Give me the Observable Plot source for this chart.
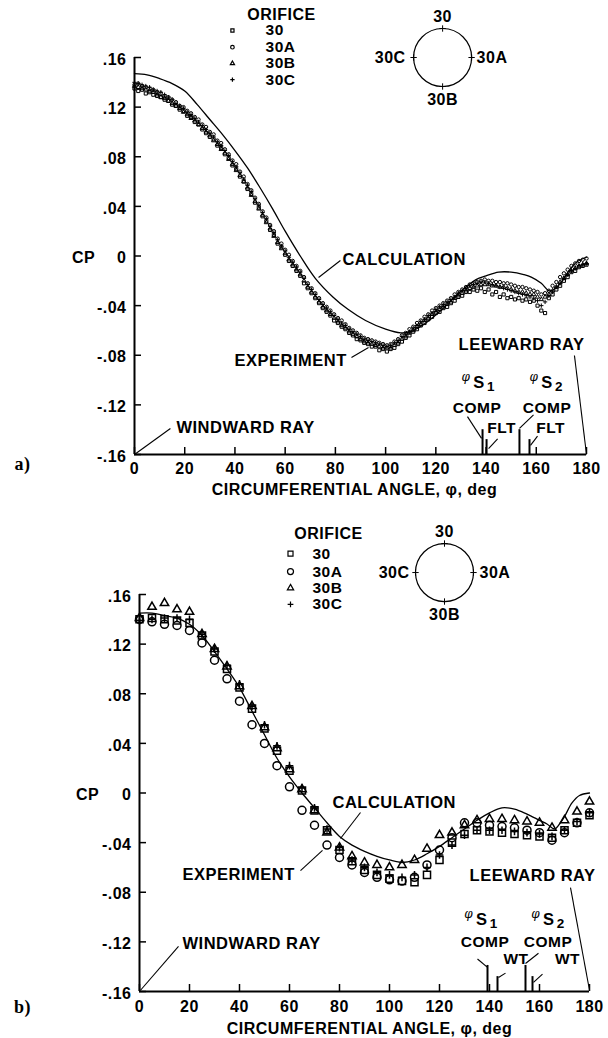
<!DOCTYPE html>
<html><head><meta charset="utf-8">
<script src="https://cdn.jsdelivr.net/npm/d3@7"></script>
<script src="https://cdn.jsdelivr.net/npm/@observablehq/plot@0.6"></script>
<style>
html,body{margin:0;padding:0;background:#fff;}
#wrap{width:608px;height:1038px;overflow:hidden;background:#fff;}
#wrap svg{display:block;background:#fff;}
#wrap svg text{letter-spacing:0.5px;}
</style></head><body><div id="wrap"></div>
<script>
// ---------- shared ----------
const orifices = ["30", "30A", "30B", "30C"];
const symbols = ["square2", "circle", "triangle2", "plus"];
const yTicks = [0.16, 0.12, 0.08, 0.04, 0, -0.04, -0.08, -0.12, -0.16];
const yTickLabels = [".16", ".12", ".08", ".04", "0", "-.04", "-.08", "-.12", "-.16"];
const xTicks = [0, 20, 40, 60, 80, 100, 120, 140, 160, 180];

// ---------- panel a (flight) ----------
const calcAngleA = [0, 5, 10, 15, 20, 25, 30, 35, 40, 45, 50, 55, 60, 66, 72, 79, 85, 92, 100, 106, 110, 116, 122, 128, 132, 136, 140, 145, 150, 155, 158, 162, 165, 167, 170, 173, 176, 180];
const calcCpA = [0.147, 0.146, 0.143, 0.139, 0.133, 0.122, 0.110, 0.098, 0.085, 0.071, 0.055, 0.038, 0.020, 0.000, -0.018, -0.033, -0.043, -0.052, -0.059, -0.062, -0.061, -0.054, -0.044, -0.032, -0.025, -0.019, -0.016, -0.013, -0.013, -0.015, -0.017, -0.022, -0.028, -0.027, -0.021, -0.012, -0.005, -0.001];
// run 1
const expAngleA = [0, 3, 6, 9, 12, 15, 18, 21, 24, 27, 30, 33, 36, 39, 42, 45, 48, 51, 54, 57, 60, 63, 66, 69, 72, 75, 78, 81, 84, 87, 90, 93, 96, 99, 102, 105, 108, 111, 114, 117, 120, 123, 126, 129, 132, 135, 138, 141, 144, 147, 150, 153, 156, 159, 162, 165, 168, 171, 174, 177, 180];
const cpA_30 = [0.135, 0.134, 0.132, 0.129, 0.126, 0.122, 0.118, 0.113, 0.108, 0.102, 0.096, 0.089, 0.082, 0.073, 0.064, 0.054, 0.043, 0.032, 0.021, 0.010, 0.001, -0.008, -0.016, -0.026, -0.034, -0.042, -0.048, -0.054, -0.059, -0.064, -0.068, -0.071, -0.073, -0.075, -0.075, -0.071, -0.066, -0.061, -0.056, -0.051, -0.046, -0.042, -0.038, -0.033, -0.029, -0.027, -0.026, -0.027, -0.029, -0.031, -0.033, -0.034, -0.035, -0.036, -0.044, -0.034, -0.027, -0.020, -0.013, -0.009, -0.007];
const cpA_30A = [0.138, 0.137, 0.135, 0.132, 0.129, 0.126, 0.121, 0.117, 0.112, 0.106, 0.100, 0.093, 0.086, 0.077, 0.068, 0.058, 0.047, 0.036, 0.025, 0.014, 0.005, -0.004, -0.012, -0.022, -0.030, -0.038, -0.044, -0.050, -0.055, -0.060, -0.064, -0.067, -0.069, -0.071, -0.071, -0.067, -0.062, -0.057, -0.052, -0.047, -0.042, -0.038, -0.034, -0.029, -0.025, -0.022, -0.020, -0.020, -0.021, -0.022, -0.023, -0.025, -0.026, -0.028, -0.031, -0.028, -0.021, -0.014, -0.008, -0.004, -0.002];
const cpA_30B = [0.137, 0.135, 0.133, 0.130, 0.127, 0.123, 0.119, 0.114, 0.109, 0.103, 0.097, 0.090, 0.083, 0.074, 0.065, 0.055, 0.044, 0.033, 0.022, 0.011, 0.002, -0.007, -0.015, -0.025, -0.033, -0.041, -0.047, -0.053, -0.058, -0.063, -0.067, -0.070, -0.072, -0.074, -0.074, -0.070, -0.065, -0.060, -0.055, -0.050, -0.045, -0.041, -0.037, -0.032, -0.028, -0.025, -0.023, -0.023, -0.024, -0.025, -0.027, -0.029, -0.030, -0.031, -0.035, -0.031, -0.025, -0.018, -0.012, -0.008, -0.006];
const cpA_30C = [0.140, 0.138, 0.136, 0.133, 0.130, 0.126, 0.121, 0.116, 0.111, 0.105, 0.099, 0.092, 0.085, 0.076, 0.067, 0.057, 0.046, 0.035, 0.024, 0.013, 0.004, -0.005, -0.013, -0.023, -0.031, -0.039, -0.045, -0.051, -0.056, -0.061, -0.065, -0.068, -0.070, -0.072, -0.072, -0.068, -0.063, -0.058, -0.053, -0.048, -0.043, -0.039, -0.035, -0.030, -0.026, -0.023, -0.021, -0.022, -0.024, -0.026, -0.028, -0.030, -0.032, -0.034, -0.040, -0.032, -0.025, -0.018, -0.012, -0.008, -0.006];
// run 2
const expAngleA2 = [1.5, 4.5, 7.5, 10.5, 13.5, 16.5, 19.5, 22.5, 25.5, 28.5, 31.5, 34.5, 37.5, 40.5, 43.5, 46.5, 49.5, 52.5, 55.5, 58.5, 61.5, 64.5, 67.5, 70.5, 73.5, 76.5, 79.5, 82.5, 85.5, 88.5, 91.5, 94.5, 97.5, 100.5, 103.5, 106.5, 109.5, 112.5, 115.5, 118.5, 121.5, 124.5, 127.5, 130.5, 133.5, 136.5, 139.5, 142.5, 145.5, 148.5, 151.5, 154.5, 157.5, 160.5, 163.5, 166.5, 169.5, 172.5, 175.5, 178.5];
const cpA2_30 = [0.133, 0.131, 0.130, 0.128, 0.125, 0.121, 0.117, 0.112, 0.106, 0.099, 0.094, 0.087, 0.079, 0.070, 0.060, 0.050, 0.039, 0.028, 0.017, 0.007, -0.004, -0.012, -0.022, -0.030, -0.038, -0.045, -0.052, -0.057, -0.062, -0.067, -0.070, -0.073, -0.076, -0.077, -0.074, -0.069, -0.064, -0.059, -0.054, -0.049, -0.045, -0.041, -0.036, -0.032, -0.029, -0.028, -0.029, -0.031, -0.033, -0.034, -0.035, -0.036, -0.037, -0.040, -0.046, -0.031, -0.024, -0.017, -0.012, -0.008];
const cpA2_30A = [0.139, 0.136, 0.134, 0.131, 0.128, 0.124, 0.120, 0.115, 0.110, 0.104, 0.098, 0.091, 0.082, 0.074, 0.064, 0.053, 0.042, 0.031, 0.020, 0.010, 0.001, -0.008, -0.017, -0.026, -0.034, -0.041, -0.047, -0.052, -0.058, -0.062, -0.066, -0.068, -0.070, -0.072, -0.069, -0.064, -0.059, -0.054, -0.049, -0.044, -0.040, -0.036, -0.031, -0.027, -0.023, -0.021, -0.019, -0.020, -0.021, -0.022, -0.024, -0.025, -0.027, -0.029, -0.030, -0.024, -0.017, -0.011, -0.006, -0.003];
const cpA2_30B = [0.136, 0.134, 0.132, 0.128, 0.125, 0.121, 0.116, 0.111, 0.106, 0.100, 0.093, 0.086, 0.078, 0.069, 0.060, 0.049, 0.038, 0.027, 0.016, 0.006, -0.003, -0.011, -0.020, -0.029, -0.037, -0.044, -0.050, -0.056, -0.061, -0.065, -0.069, -0.071, -0.073, -0.074, -0.072, -0.067, -0.062, -0.057, -0.052, -0.047, -0.043, -0.039, -0.034, -0.030, -0.026, -0.024, -0.023, -0.024, -0.025, -0.026, -0.028, -0.029, -0.031, -0.033, -0.033, -0.028, -0.021, -0.015, -0.010, -0.007];
const cpA2_30C = [0.139, 0.137, 0.134, 0.132, 0.128, 0.123, 0.119, 0.114, 0.108, 0.102, 0.096, 0.089, 0.081, 0.072, 0.062, 0.052, 0.041, 0.030, 0.019, 0.008, -0.001, -0.009, -0.018, -0.027, -0.035, -0.042, -0.048, -0.054, -0.059, -0.063, -0.067, -0.069, -0.071, -0.073, -0.070, -0.065, -0.061, -0.056, -0.051, -0.046, -0.041, -0.037, -0.033, -0.028, -0.024, -0.022, -0.021, -0.023, -0.025, -0.027, -0.029, -0.031, -0.033, -0.036, -0.037, -0.029, -0.022, -0.015, -0.010, -0.007];
const sepCompA = [138.6, 153.3];
const sepFltA = [140.2, 157.3];

// ---------- panel b (wind tunnel) ----------
const calcAngleB = [0, 5, 10, 15, 20, 25, 30, 35, 40, 45, 50, 55, 60, 65, 70, 75, 80, 85, 90, 95, 100, 105, 110, 115, 120, 125, 130, 135, 140, 145, 150, 155, 160, 163, 166, 168, 170, 173, 176, 180];
const calcCpB = [0.145, 0.145, 0.143, 0.141, 0.136, 0.127, 0.114, 0.100, 0.085, 0.066, 0.047, 0.028, 0.013, 0.000, -0.012, -0.024, -0.035, -0.042, -0.047, -0.051, -0.054, -0.056, -0.054, -0.049, -0.043, -0.036, -0.029, -0.022, -0.016, -0.012, -0.013, -0.017, -0.022, -0.025, -0.029, -0.025, -0.019, -0.008, -0.002, 0.000];
const expAngleB = [0, 5, 10, 15, 20, 25, 30, 35, 40, 45, 50, 55, 60, 65, 70, 75, 80, 85, 90, 95, 100, 105, 110, 115, 120, 125, 130, 135, 140, 145, 150, 155, 160, 165, 170, 175, 180];
const cpB_30 = [0.140, 0.141, 0.140, 0.139, 0.137, 0.127, 0.114, 0.100, 0.085, 0.068, 0.052, 0.034, 0.018, 0.002, -0.014, -0.030, -0.046, -0.055, -0.062, -0.066, -0.069, -0.071, -0.072, -0.066, -0.054, -0.040, -0.033, -0.030, -0.031, -0.032, -0.033, -0.034, -0.035, -0.036, -0.030, -0.024, -0.018];
const cpB_30A = [0.140, 0.138, 0.136, 0.135, 0.131, 0.121, 0.107, 0.092, 0.074, 0.055, 0.040, 0.022, 0.005, -0.014, -0.026, -0.042, -0.052, -0.058, -0.064, -0.068, -0.070, -0.071, -0.068, -0.058, -0.046, -0.036, -0.024, -0.024, -0.026, -0.027, -0.028, -0.030, -0.032, -0.038, -0.032, -0.024, -0.016];
const cpB_30B = [0.141, 0.150, 0.153, 0.148, 0.146, 0.128, 0.116, 0.102, 0.086, 0.070, 0.053, 0.036, 0.019, 0.003, -0.014, -0.032, -0.044, -0.051, -0.056, -0.058, -0.060, -0.058, -0.054, -0.045, -0.034, -0.032, -0.026, -0.022, -0.021, -0.021, -0.022, -0.023, -0.024, -0.028, -0.022, -0.015, -0.007];
const cpB_30C = [0.139, 0.140, 0.141, 0.141, 0.140, 0.128, 0.116, 0.103, 0.088, 0.070, 0.055, 0.038, 0.022, 0.004, -0.012, -0.029, -0.044, -0.054, -0.060, -0.064, -0.066, -0.068, -0.066, -0.060, -0.050, -0.042, -0.034, -0.030, -0.030, -0.030, -0.031, -0.032, -0.033, -0.035, -0.030, -0.023, -0.016];
const sepCompB = [139.2, 154.4];
const sepWtB = [143.2, 157.2];

// ---------- drawing ----------
const SANS = "'Liberation Sans', Arial, Helvetica, sans-serif";
const B = {fontFamily: SANS, fontWeight: "bold"};

function annText(list, anchor, size) {
  return Plot.text(list.filter(d => d[3] === anchor),
    {x: d => d[1], y: d => d[2], text: d => d[0], textAnchor: anchor, ...B, fontSize: size});
}

function panel(p) {
  const W = 608;
  const plotW = W - p.ml - p.mr, plotH = p.height - p.mt - p.mb;
  const calc = p.calcAngles.map((a, i) => ({angle: a, cp: p.calcCp[i]}));
  const dotMarks = p.series.map((runs, i) =>
    Plot.dot(runs.flatMap(([angles, vals]) => vals.map((cp, j) => ({angle: angles[j], cp}))),
      {x: "angle", y: "cp", symbol: symbols[i], r: p.r[i], stroke: "black", fill: "none", strokeWidth: p.sw}));
  const L = p.legend, C = p.circle;
  const legendMarks = [
    Plot.text(["ORIFICE"], {x: L.titleX, y: L.titleY, ...B, fontSize: 16}),
    ...orifices.map((o, i) => Plot.dot([o], {x: L.symX, y: L.rows[i], symbol: symbols[i], r: p.lr[i], stroke: "black", fill: "none", strokeWidth: 1.2})),
    Plot.text(orifices, {x: L.labX, y: (d, i) => L.rows[i], text: d => d, textAnchor: "start", ...B, fontSize: 15.5}),
    Plot.dot([0], {x: C.x, y: C.y, r: 29, stroke: "black", fill: "none", strokeWidth: 1.2}),
    ...[[0, -29], [0, 29], [-29, 0], [29, 0]].map(([dx, dy]) =>
      Plot.dot([0], {x: C.x, y: C.y, dx, dy, symbol: "plus", r: 2.2, stroke: "black", strokeWidth: 1})),
    Plot.text(["30"], {x: C.x, y: C.y, dy: -41, ...B, fontSize: 16}),
    Plot.text(["30B"], {x: C.x, y: C.y, dy: 42, ...B, fontSize: 16}),
    Plot.text(["30C"], {x: C.x, y: C.y, dx: C.left, textAnchor: "end", ...B, fontSize: 16}),
    Plot.text(["30A"], {x: C.x, y: C.y, dx: C.right, textAnchor: "start", ...B, fontSize: 16})
  ];
  const annMarks = [
    annText(p.ann, "start", 16.5), annText(p.ann, "middle", 15.5), annText(p.ann, "end", 16.5),
    Plot.link(p.leaders, {x1: d => d[0], y1: d => d[1], x2: d => d[2], y2: d => d[3], strokeWidth: 1.1}),
    // separation-angle labels: raised phi, S, lowered index
    Plot.text(p.phi, {x: d => d[0], y: d => d[1], text: () => "φ", dx: -13, dy: -6, fontFamily: "'DejaVu Serif', serif", fontStyle: "italic", fontSize: 12}),
    Plot.text(p.phi, {x: d => d[0], y: d => d[1], text: () => "S", ...B, fontSize: 16.5}),
    Plot.text(p.phi, {x: d => d[0], y: d => d[1], text: d => d[2], dx: 12, dy: 4, ...B, fontSize: 13.5}),
    Plot.ruleX(p.sepComp, {y1: -0.16, y2: p.compTop, strokeWidth: 2}),
    Plot.ruleX(p.sepOther, {y1: -0.16, y2: p.otherTop, strokeWidth: 2})
  ];
  return Plot.plot({
    width: W, height: p.height,
    marginLeft: p.ml, marginRight: p.mr, marginTop: p.mt, marginBottom: p.mb,
    x: {domain: [0, 180], axis: null},
    y: {domain: [-0.16, 0.16], axis: null},
    style: {fontFamily: SANS, background: "#fff", overflow: "visible"},
    marks: [
      Plot.ruleX([0], {y1: -0.16, y2: 0.16, strokeWidth: 2}),
      Plot.ruleY([-0.16], {x1: 0, x2: 180, strokeWidth: 2}),
      Plot.tickY(yTicks, {y: d => d, insetRight: plotW - 7, strokeWidth: 1.5}),
      Plot.tickX(xTicks, {x: d => d, insetTop: plotH - 7, strokeWidth: 1.5}),
      Plot.text(yTicks, {x: 0, y: d => d, text: (d, i) => yTickLabels[i], textAnchor: "end", dx: -8, dy: 2, ...B, fontSize: 16}),
      Plot.text(xTicks, {x: d => d, y: -0.16, text: d => String(d), dy: p.xlabDy, ...B, fontSize: 16}),
      Plot.text(["CIRCUMFERENTIAL ANGLE, φ, deg"], {x: 90, y: -0.16, dx: p.titleDx, dy: p.titleDy, ...B, fontSize: 16}),
      Plot.text(["CP"], {x: 0, y: 0, dx: p.cpDx, dy: 2, ...B, fontSize: 16}),
      Plot.text([p.tag], {x: 0, y: -0.16, dx: p.tagDx, dy: p.tagDy, fontFamily: "'Liberation Serif', 'Times New Roman', serif", fontWeight: "bold", fontSize: 18}),
      Plot.line(calc, {x: "angle", y: "cp", curve: "catmull-rom", strokeWidth: 1.3}),
      ...dotMarks,
      ...legendMarks,
      ...annMarks
    ]
  });
}

const wrap = document.getElementById("wrap");

wrap.appendChild(panel({
  height: 500, ml: 134, mr: 22, mt: 57, mb: 46,
  series: [
    [[expAngleA, cpA_30], [expAngleA2, cpA2_30]],
    [[expAngleA, cpA_30A], [expAngleA2, cpA2_30A]],
    [[expAngleA, cpA_30B], [expAngleA2, cpA2_30B]],
    [[expAngleA, cpA_30C], [expAngleA2, cpA2_30C]]
  ],
  calcAngles: calcAngleA, calcCp: calcCpA,
  r: [2, 1.7, 2, 1.5], sw: 1, lr: [2, 1.8, 2, 1.5],
  xlabDy: 14, titleDx: -6, titleDy: 35, cpDx: -51, tag: "a)", tagDx: -112, tagDy: 10,
  legend: {titleX: 58.5, titleY: 0.1947, symX: 39.0, labX: 52.2, rows: [0.1818, 0.1683, 0.1552, 0.1421]},
  circle: {x: 122.7, y: 0.16, left: -37, right: 34},
  ann: [["CALCULATION", 82.8, -0.0028, "start"], ["EXPERIMENT", 39.8, -0.0842, "start"], ["LEEWARD RAY", 179.2, -0.0713, "end"], ["WINDWARD RAY", 16.7, -0.1382, "start"], ["COMP", 136.4, -0.1225, "middle"], ["COMP", 164.3, -0.1225, "middle"], ["FLT", 146.2, -0.1390, "middle"], ["FLT", 165.7, -0.1390, "middle"]],
  leaders: [[82, -0.0036, 73.3, -0.0173], [86.4, -0.0818, 93.2, -0.0737], [175.2, -0.0802, 180, -0.16], [14.3, -0.139, 0, -0.16], [132.6, -0.1295, 138.2, -0.147], [144.6, -0.1475, 141, -0.1552], [158.9, -0.128, 153.3, -0.139], [160.5, -0.1452, 157.7, -0.1527]],
  phi: [[137.2, -0.1025, "1"], [164.3, -0.1025, "2"]],
  sepComp: sepCompA, sepOther: sepFltA, compTop: -0.1400, otherTop: -0.1480
}));

wrap.appendChild(panel({
  height: 538, ml: 139, mr: 19, mt: 94, mb: 47,
  series: [[[expAngleB, cpB_30]], [[expAngleB, cpB_30A]], [[expAngleB, cpB_30B]], [[expAngleB, cpB_30C]]],
  calcAngles: calcAngleB, calcCp: calcCpB,
  r: [4.5, 4, 4, 2.6], sw: 1.5, lr: [3.2, 3, 3, 2],
  xlabDy: 15, titleDx: 5, titleDy: 37, cpDx: -52, tag: "b)", tagDx: -117, tagDy: 16,
  legend: {titleX: 75.6, titleY: 0.2092, symX: 60.4, labX: 69.2, rows: [0.193, 0.1785, 0.1652, 0.1520]},
  circle: {x: 122, y: 0.1777, left: -35, right: 35},
  ann: [["CALCULATION", 77.2, -0.0077, "start"], ["EXPERIMENT", 17.2, -0.0657, "start"], ["LEEWARD RAY", 182.4, -0.0665, "end"], ["WINDWARD RAY", 17.2, -0.1213, "start"], ["COMP", 138.2, -0.1205, "middle"], ["COMP", 163.4, -0.1205, "middle"], ["WT", 150.6, -0.1340, "middle"], ["WT", 171.2, -0.1340, "middle"]],
  leaders: [[88.4, -0.0157, 80.4, -0.0367], [64.4, -0.0625, 73.2, -0.0463], [172.4, -0.0762, 180, -0.159], [15.6, -0.1237, 0.4, -0.159], [135.2, -0.1338, 139.2, -0.1406], [146.4, -0.1452, 143.6, -0.1487], [159.6, -0.1292, 154.4, -0.1374], [161.2, -0.1460, 157.6, -0.1527]],
  phi: [[136.9, -0.1025, "1"], [163.7, -0.1025, "2"]],
  sepComp: sepCompB, sepOther: sepWtB, compTop: -0.1390, otherTop: -0.1480
}));
</script>
</body></html>
